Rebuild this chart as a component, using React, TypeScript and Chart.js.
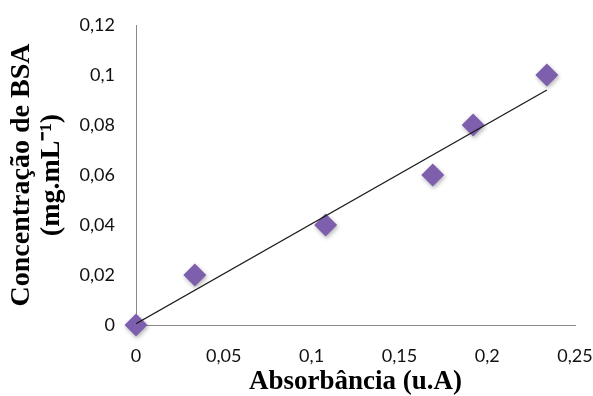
import React, { useEffect, useRef } from "react";
import { Chart, registerables } from "chart.js";

Chart.register(...registerables);

const absorbance = [0, 0.0335, 0.108, 0.169, 0.192, 0.234];
const concentration = [0, 0.02, 0.04, 0.06, 0.08, 0.1];
const trendX = [0, 0.234];
const trendY = [0.0005, 0.094];
const xTickValues = [0, 0.05, 0.1, 0.15, 0.2, 0.25];
const xTickLabels = ["0", "0,05", "0,1", "0,15", "0,2", "0,25"];
const yTickValues = [0, 0.02, 0.04, 0.06, 0.08, 0.1, 0.12];
const yTickLabels = ["0", "0,02", "0,04", "0,06", "0,08", "0,1", "0,12"];
const xTitle = "Absorbância (u.A)";
const yTitle = ["Concentração de BSA", "(mg.mL⁻¹)"];

const shadowPlugin = {
  id: "markerShadow",
  beforeDatasetDraw(chart: any, args: any) {
    if (args.index === 1) {
      const ctx = chart.ctx;
      ctx.save();
      ctx.shadowColor = "rgba(0,0,0,0.3)";
      ctx.shadowBlur = 4;
      ctx.shadowOffsetX = 1;
      ctx.shadowOffsetY = 2;
    }
  },
  afterDatasetDraw(chart: any, args: any) {
    if (args.index === 1) chart.ctx.restore();
  },
};

const zeroPad = (s: any) => {
  s.paddingLeft = 0;
  s.paddingRight = 0;
  s.paddingTop = 0;
  s.paddingBottom = 0;
};

export default function App() {
  const ref = useRef<HTMLCanvasElement>(null);
  useEffect(() => {
    document.body.style.margin = "0";
    const chart = new Chart(ref.current!, {
      type: "scatter",
      data: {
        datasets: [
          {
            label: "Tendência",
            data: trendX.map((x, i) => ({ x, y: trendY[i] })),
            showLine: true,
            borderColor: "#1a1a1a",
            borderWidth: 1.3,
            pointRadius: 0,
            order: 0,
          },
          {
            label: "BSA",
            data: absorbance.map((x, i) => ({ x, y: concentration[i] })),
            pointStyle: "rectRot",
            pointRadius: 11.5,
            backgroundColor: "#7d5fae",
            borderColor: "#7d5fae",
            borderWidth: 0,
            clip: false,
            order: 1,
          },
        ],
      },
      options: {
        animation: false,
        responsive: false,
        layout: { autoPadding: false, padding: { top: 25, right: 18, left: 0, bottom: 0 } },
        plugins: { legend: { display: false }, tooltip: { enabled: false } },
        scales: {
          x: {
            type: "linear",
            min: 0,
            max: 0.25,
            afterBuildTicks: (s: any) => {
              s.ticks = xTickValues.map((v) => ({ value: v }));
            },
            afterFit: (s: any) => {
              s.height = 71;
              zeroPad(s);
            },
            grid: { display: false, drawTicks: false },
            border: { display: true, color: "#8a8a8a", width: 1 },
            ticks: {
              padding: 20,
              color: "#111",
              font: { family: "Lato", size: 18 },
              callback: (_v: any, i: number) => xTickLabels[i],
            },
            title: {
              display: true,
              text: xTitle,
              color: "#000",
              padding: { top: 0, bottom: 0 },
              font: { family: "'Liberation Serif', 'Times New Roman', serif", size: 27, weight: "bold", lineHeight: 1 },
            },
          },
          y: {
            type: "linear",
            min: 0,
            max: 0.12,
            afterBuildTicks: (s: any) => {
              s.ticks = yTickValues.map((v) => ({ value: v }));
            },
            afterFit: (s: any) => {
              s.width = 136;
              zeroPad(s);
            },
            grid: { display: false, drawTicks: false },
            border: { display: true, color: "#8a8a8a", width: 1 },
            ticks: {
              padding: 21,
              color: "#111",
              font: { family: "Lato", size: 18 },
              callback: (_v: any, i: number) => yTickLabels[i],
            },
            title: {
              display: true,
              text: yTitle,
              color: "#000",
              padding: { top: 6, bottom: 0 },
              font: { family: "'Liberation Serif', 'Times New Roman', serif", size: 28, weight: "bold", lineHeight: 1.1 },
            },
          },
        },
      },
      plugins: [shadowPlugin],
    });
    return () => chart.destroy();
  }, []);
  return (
    <canvas
      ref={ref}
      width={593}
      height={396}
      style={{ position: "fixed", left: 0, top: 0, width: 593, height: 396, display: "block" }}
    />
  );
}
